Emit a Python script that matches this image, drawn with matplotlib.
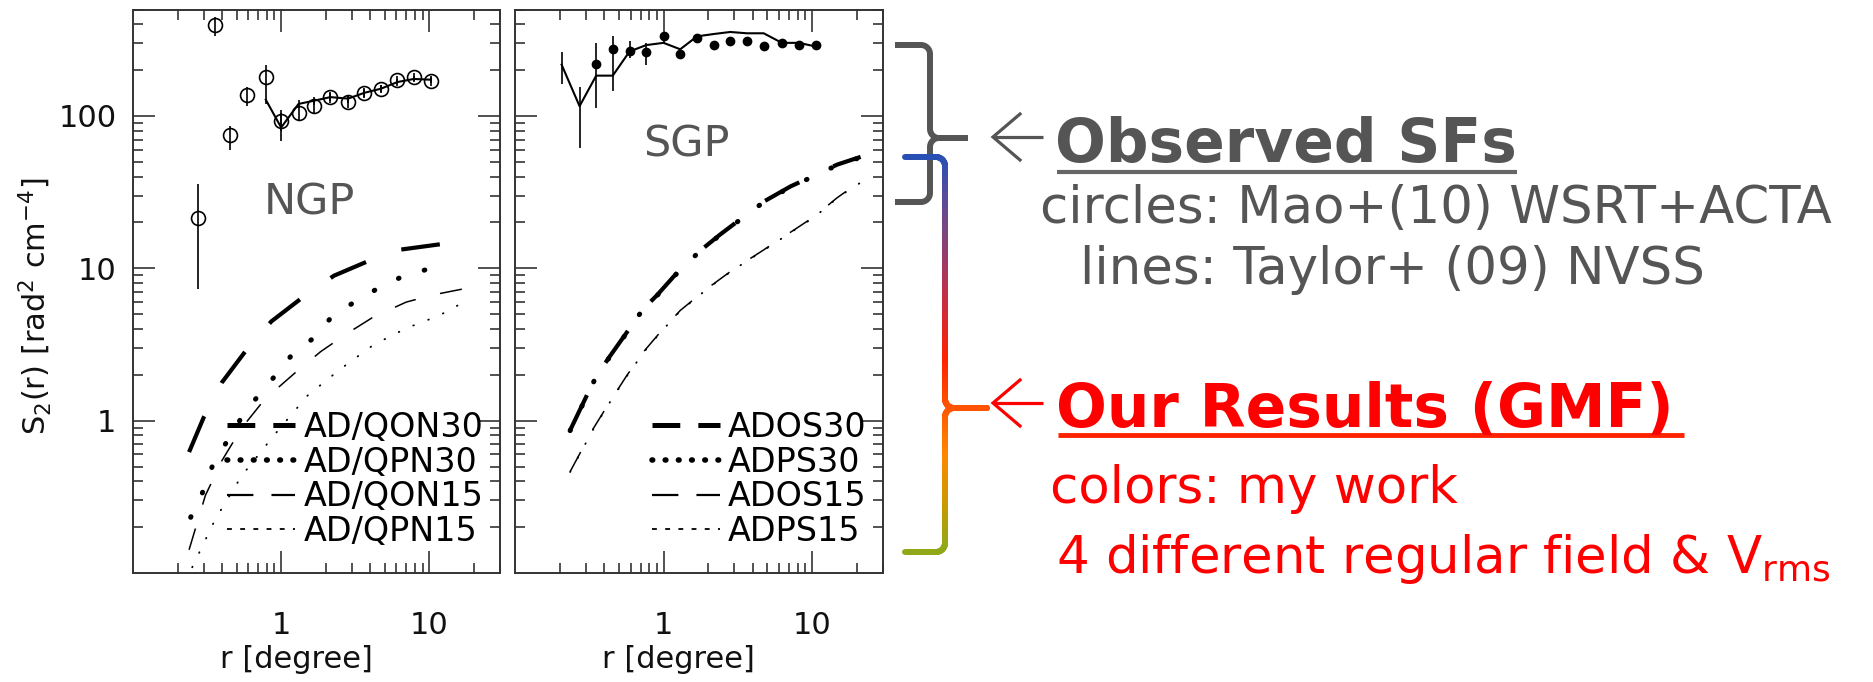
import numpy as np
import matplotlib
matplotlib.use("Agg")
import matplotlib.pyplot as plt
from matplotlib.lines import Line2D
from matplotlib.collections import LineCollection
from matplotlib.colors import LinearSegmentedColormap
from matplotlib.ticker import LogLocator, NullFormatter

plt.rcParams['font.family'] = ['DejaVu Sans']
plt.rcParams['lines.scale_dashes'] = False
plt.rcParams['mathtext.default'] = 'regular'

# ---- NGP: Mao+(10) circles and Taylor+(09) line ----
ngp_r = np.array([0.275, 0.36, 0.453, 0.59, 0.787, 1.0, 1.31, 1.67, 2.15, 2.83, 3.65, 4.71, 6.09, 7.86, 10.26])
ngp_s = np.array([21.3, 398, 74.9, 137, 181, 92.4, 104, 116, 133, 124, 142, 151, 173, 181, 169])
ngp_lo = np.array([7.3, 333, 60, 116, 120, 80, 94, 105, 122, 112, 132, 142, 162, 170, 158])
ngp_hi = np.array([35.6, 448, 86.5, 156, 217, 105, 114, 127, 144, 136, 152, 160, 184, 192, 180])

ngp_line_r = np.array([0.787, 1.0, 1.31, 1.67, 2.15, 2.83, 3.65, 4.71, 6.09, 7.86, 10.26])
ngp_line_s = np.array([128, 84, 120, 126, 133, 130, 142, 151, 167, 175, 173])
ngp_line_lo = np.array([128, 69, 112, 118, 125, 122, 134, 143, 158, 166, 164])
ngp_line_hi = np.array([128, 109, 128, 134, 141, 138, 150, 159, 176, 184, 182])

# ---- NGP model curves ----
qon30_r = [0.239, 0.30, 0.398, 0.584, 0.858, 1.394, 2.27, 4.08, 6.15, 13.25]
qon30_s = [0.622, 1.05, 1.78, 2.92, 4.48, 6.44, 8.94, 11.4, 13.2, 14.6]
qpn30_r = [0.245, 0.293, 0.341, 0.423, 0.541, 0.681, 0.894, 1.184, 1.626, 2.13, 3.0, 4.29, 6.47, 9.7, 13.25]
qpn30_s = [0.232, 0.333, 0.495, 0.71, 1.05, 1.41, 1.93, 2.71, 3.44, 4.64, 5.86, 7.19, 8.77, 9.86, 10.9]
qon15_r = [0.239, 0.308, 0.398, 0.541, 0.774, 1.227, 1.849, 2.78, 4.19, 6.98, 10.5, 20.5]
qon15_s = [0.142, 0.323, 0.546, 0.894, 1.38, 2.04, 2.84, 3.73, 4.79, 6.0, 6.68, 7.6]
qpn15_r = [0.251, 0.359, 0.541, 0.903, 1.506, 2.51, 4.19, 6.98, 11.66, 18.4]
qpn15_s = [0.109, 0.225, 0.434, 0.81, 1.46, 2.18, 3.14, 4.04, 4.9, 6.24]
ngp_labels = ['AD/QON30', 'AD/QPN30', 'AD/QON15', 'AD/QPN15']

# ---- SGP: observed dots and line ----
sgp_r = np.array([0.352, 0.455, 0.59, 0.764, 1.0, 1.295, 1.677, 2.17, 2.81, 3.64, 4.72, 6.26, 8.15, 10.55])
sgp_s = np.array([220, 277, 268, 265, 333, 256, 327, 292, 312, 312, 286, 302, 292, 292])
sgp_lo = np.array([113, 146, 240, 217, 302, 245, 315, 282, 300, 300, 276, 292, 282, 282])
sgp_hi = np.array([302, 333, 312, 302, 356, 268, 340, 302, 324, 324, 296, 312, 302, 302])

sgp_line_r = np.array([0.206, 0.272, 0.352, 0.455, 0.59, 0.764, 1.0, 1.295, 1.677, 2.17, 2.81, 3.64, 4.72, 6.26, 8.15, 10.55])
sgp_line_s = np.array([217, 116, 184, 184, 265, 292, 302, 274, 333, 345, 356, 349, 349, 302, 302, 286])
sgp_line_lo = np.array([162, 62, 184, 184, 265, 292, 302, 274, 333, 345, 356, 349, 349, 302, 302, 286])
sgp_line_hi = np.array([265, 156, 184, 184, 265, 292, 302, 274, 333, 345, 356, 349, 349, 302, 302, 286])

# ---- SGP model curves ----
ados30_r = [0.235, 0.346, 0.426, 0.566, 0.714, 0.902, 1.295, 1.72, 2.41, 3.46, 4.72, 7.16, 10.3, 14.7, 21.2]
ados30_s = [0.865, 1.9, 2.57, 3.80, 5.29, 6.65, 9.87, 12.8, 16.7, 21.8, 27.4, 34.5, 40.6, 47.9, 53.9]
adps30_r = ados30_r
adps30_s = [0.86, 1.88, 2.55, 3.78, 5.25, 6.6, 9.8, 12.7, 16.6, 21.7, 27.2, 34.2, 40.3, 47.5, 53.5]
ados15_r = [0.235, 0.337, 0.437, 0.566, 0.733, 0.95, 1.295, 1.96, 2.96, 4.49, 6.8, 10.3, 14.7, 18.1, 21.2]
ados15_s = [0.463, 0.89, 1.34, 1.98, 2.83, 3.81, 5.29, 7.35, 9.87, 12.8, 16.7, 21.8, 29.0, 33.5, 36.8]
adps15_r = ados15_r
adps15_s = [0.46, 0.88, 1.33, 1.96, 2.8, 3.78, 5.25, 7.3, 9.8, 12.7, 16.6, 21.6, 28.8, 33.2, 36.5]
sgp_labels = ['ADOS30', 'ADPS30', 'ADOS15', 'ADPS15']

# line styles: (linewidth, dash pattern in points, capstyle) for curves and legend keys
curve_styles = [
    dict(lw=3.0, dashes=(28, 27), dash_capstyle='butt'),
    dict(lw=3.6, dashes=(0.5, 19), dash_capstyle='round'),
    dict(lw=1.1, dashes=(16, 18), dash_capstyle='butt'),
    dict(lw=1.3, dashes=(0.5, 11), dash_capstyle='round'),
]
key_styles = [
    dict(lw=3.6, dashes=(20, 13), dash_capstyle='butt'),
    dict(lw=4.0, dashes=(0.5, 9), dash_capstyle='round'),
    dict(lw=1.6, dashes=(19, 13), dash_capstyle='butt'),
    dict(lw=1.3, dashes=(3.5, 6), dash_capstyle='butt'),
]

W, H = 1874, 682
fig = plt.figure(figsize=(W / 100, H / 100), dpi=100)

ax1 = fig.add_axes([133 / W, 1 - 573 / H, 367 / W, 563.5 / H])
ax2 = fig.add_axes([515 / W, 1 - 573 / H, 368 / W, 563.5 / H])


def style_axes(ax, ylabels=True):
    ax.set_xscale('log')
    ax.set_yscale('log')
    ax.set_xlim(0.1, 30)
    ax.set_ylim(0.1, 500)
    ax.set_xticks([1, 10], ['1', '10'])
    ax.set_yticks([1, 10, 100], ['1', '10', '100'] if ylabels else ['', '', ''])
    ax.xaxis.set_minor_locator(LogLocator(base=10, subs=np.arange(2, 10), numticks=20))
    ax.yaxis.set_minor_locator(LogLocator(base=10, subs=np.arange(2, 10), numticks=20))
    ax.xaxis.set_minor_formatter(NullFormatter())
    ax.yaxis.set_minor_formatter(NullFormatter())
    ax.tick_params(which='both', direction='in', top=True, right=True,
                   width=1.1, color='#222222', labelcolor='#111111')
    ax.tick_params(which='major', length=16)
    ax.tick_params(which='minor', length=7)
    ax.tick_params(axis='x', which='major', pad=27, labelsize=22)
    ax.tick_params(axis='y', which='major', pad=12, labelsize=22)
    for sp in ax.spines.values():
        sp.set_linewidth(1.4)
        sp.set_color('#333333')
    ax.set_xlabel('r [degree]', fontsize=22, va='center', color='#111111')
    ax.xaxis.set_label_coords(0.445, -0.153)


def add_key(ax, labels, x0):
    handles = [Line2D([], [], color='black', **st) for st in key_styles]
    ax.legend(handles, labels, loc='upper left', bbox_to_anchor=(x0, 0.2875),
              frameon=False, fontsize=24, handlelength=2.05, handletextpad=0.24,
              labelspacing=0.05, borderpad=0, borderaxespad=0)


# NGP panel
style_axes(ax1)
for r, s, st in zip([qon30_r, qpn30_r, qon15_r, qpn15_r],
                    [qon30_s, qpn30_s, qon15_s, qpn15_s], curve_styles):
    ax1.plot(r, s, color='black', **st)
ax1.plot(ngp_line_r, ngp_line_s, color='black', lw=1.5)
ax1.errorbar(ngp_line_r, ngp_line_s, yerr=[ngp_line_s - ngp_line_lo, ngp_line_hi - ngp_line_s],
             fmt='none', ecolor='black', elinewidth=1.2, capsize=0)
ax1.errorbar(ngp_r, ngp_s, yerr=[ngp_s - ngp_lo, ngp_hi - ngp_s], fmt='o', mfc='none',
             mec='black', ms=10, mew=1.2, ecolor='black', elinewidth=1.2, capsize=0)
ax1.text(0.48, 0.658, 'NGP', transform=ax1.transAxes, fontsize=31, color='#555555',
         ha='center', va='center')
ax1.set_ylabel(r'S$_2$(r) [rad$^2$ cm$^{-4}$]', fontsize=22, color='#111111')
ax1.yaxis.set_label_coords(-0.216, 0.474)
add_key(ax1, ngp_labels, 0.256)

# SGP panel
style_axes(ax2, ylabels=False)
for r, s, st in zip([ados30_r, adps30_r, ados15_r, adps15_r],
                    [ados30_s, adps30_s, ados15_s, adps15_s], curve_styles):
    ax2.plot(r, s, color='black', **st)
ax2.plot(sgp_line_r, sgp_line_s, color='black', lw=1.5)
ax2.errorbar(sgp_line_r, sgp_line_s, yerr=[sgp_line_s - sgp_line_lo, sgp_line_hi - sgp_line_s],
             fmt='none', ecolor='black', elinewidth=1.2, capsize=0)
ax2.errorbar(sgp_r, sgp_s, yerr=[sgp_s - sgp_lo, sgp_hi - sgp_s], fmt='o', mfc='black',
             mec='black', ms=6, ecolor='black', elinewidth=1.2, capsize=0)
ax2.text(0.465, 0.761, 'SGP', transform=ax2.transAxes, fontsize=31, color='#555555',
         ha='center', va='center')
add_key(ax2, sgp_labels, 0.372)

# ---- annotation layer in pixel coordinates (y downwards) ----
ov = fig.add_axes([0, 0, 1, 1])
ov.set_xlim(0, W)
ov.set_ylim(H, 0)
ov.axis('off')
ov.patch.set_alpha(0)


def brace(x0, x1, xm, ytop, ymid, ybot, r=9, n=12):
    # two halves of a "}" : top arm -> tip, tip -> bottom arm
    t = np.linspace(0, np.pi / 2, n)
    up = np.vstack([[[x0, ytop]],
                    np.c_[x1 - r + r * np.sin(t), ytop + r - r * np.cos(t)],
                    np.c_[x1 + r - r * np.cos(t), ymid - r + r * np.sin(t)],
                    [[xm, ymid]]])
    lo = np.vstack([[[xm, ymid]],
                    np.c_[x1 + r - r * np.sin(t), ymid + r - r * np.cos(t)],
                    np.c_[x1 - r + r * np.cos(t), ybot - r + r * np.sin(t)],
                    [[x0, ybot]]])
    return up, lo


# grey brace for the observed structure functions
for part in brace(895, 930, 968, 45, 138, 202):
    ov.plot(part[:, 0], part[:, 1], color='#555555', lw=4.3, solid_capstyle='butt',
            solid_joinstyle='round')

# colour brace for the model results
grad = LinearSegmentedColormap.from_list('brace', [
    (0.0, '#2850b4'), (0.15, '#6a4a8e'), (0.35, '#c0304a'), (0.52, '#ff2200'),
    (0.64, '#ff5500'), (0.76, '#ff8800'), (0.88, '#cc9900'), (1.0, '#90a818')])
ytop, ybot = 157, 552
for part in brace(905, 945, 987, ytop, 408, ybot):
    dense = []
    for a, b in zip(part[:-1], part[1:]):
        k = max(2, int(np.hypot(*(b - a)) / 3))
        dense.append(np.linspace(a, b, k, endpoint=False))
    dense.append(part[-1:])
    pts = np.vstack(dense)
    segs = np.stack([pts[:-1], pts[1:]], axis=1)
    ymid = 0.5 * (segs[:, 0, 1] + segs[:, 1, 1])
    lc = LineCollection(segs, colors=grad((ymid - ytop) / (ybot - ytop)), linewidths=4.3,
                        capstyle='round', joinstyle='round')
    ov.add_collection(lc)


def arrow_left(x0, x1, y, half, color):
    ov.plot([x0, x1], [y, y], color=color, lw=2.3, solid_capstyle='butt')
    ov.plot([x0 + 27, x0, x0 + 27], [y - half, y, y + half], color=color, lw=2.3,
            solid_joinstyle='miter')


grey = '#555555'
red = '#ff0000'
arrow_left(993, 1043, 137, 23, grey)
ov.text(1055, 162, 'Observed SFs', fontsize=43, fontweight='bold', color=grey, va='baseline')
ov.plot([1057, 1517], [172, 172], color='#666666', lw=3, solid_capstyle='butt')
ov.text(1040, 223, 'circles: Mao+(10) WSRT+ACTA', fontsize=37, color=grey, va='baseline')
ov.text(1080, 284, 'lines: Taylor+ (09) NVSS', fontsize=37, color=grey, va='baseline')

arrow_left(993, 1043, 403, 23, red)
ov.text(1056, 427, 'Our Results (GMF)', fontsize=43, fontweight='bold', color=red, va='baseline')
ov.plot([1058, 1684], [435, 435], color='#ff2200', lw=3.5, solid_capstyle='butt')
ov.text(1050, 503, 'colors: my work', fontsize=37, color=red, va='baseline')
ov.text(1056, 573, r'4 different regular field & V$_{rms}$', fontsize=37, color=red,
        va='baseline')

fig.savefig('out.png', dpi=100)
